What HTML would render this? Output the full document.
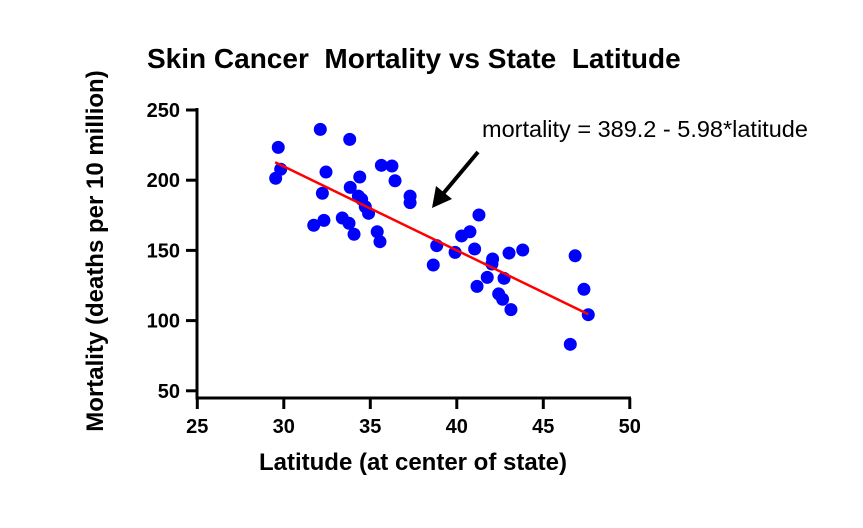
<!DOCTYPE html>
<html><head><meta charset="utf-8"><style>
html,body{margin:0;padding:0;background:#fff;}
svg{display:block;font-family:"Liberation Sans",Arial,sans-serif;}
</style></head><body>
<svg id="chart" width="863" height="528">
<text x="147" y="68" font-size="28" font-weight="bold" xml:space="preserve">Skin Cancer  Mortality vs State  Latitude</text>
<text transform="translate(103,251) rotate(-90)" text-anchor="middle" font-size="24" font-weight="bold">Mortality (deaths per 10 million)</text>
<text x="413" y="470" text-anchor="middle" font-size="24" font-weight="bold">Latitude (at center of state)</text>
<text x="482" y="137" font-size="23.5">mortality = 389.2 - 5.98*latitude</text>
<g id="axes"></g>
<g id="marks"></g>
<line x1="478" y1="152" x2="442" y2="195" stroke="#000" stroke-width="4"/>
<polygon points="432,208 436,186 452,199" fill="#000"/>
</svg>
<script>
const xTicks = [25,30,35,40,45,50];
const yTicks = [50,100,150,200,250];
const latitude = [29.68,32.11,33.81,29.82,29.53,32.44,34.39,33.84,32.23,35.64,36.25,36.43,37.3,37.3,34.31,34.5,34.71,34.9,31.73,32.32,33.38,33.77,34.06,35.4,35.56,38.64,41.28,40.76,40.28,38.84,39.9,41.03,42.07,42.03,43.02,43.81,41.76,42.73,41.17,42.42,42.65,43.13,46.84,47.35,47.6,46.56];
const mortality = [223.4,236.2,229.1,207.8,201.4,205.8,202.3,194.9,190.7,210.6,210.1,199.6,188.7,184.0,188.7,186.4,181.1,176.4,167.9,171.4,173.1,169.3,161.5,163.3,156.2,139.6,175.2,163.3,160.3,153.4,148.6,151.0,143.9,140.3,148.1,150.3,130.8,130.1,124.4,119.0,115.2,107.8,146.2,122.3,104.2,83.1];
const intercept = 389.2;
const slope = -5.98;
const fitRange = [29.5, 47.6];

const NS = "http://www.w3.org/2000/svg";
const xs = v => 197.3 + (v - 25) * 17.3;
const ys = v => 110 + (250 - v) * 1.404;
function mk(tag, attrs, parent){ const e=document.createElementNS(NS,tag); for(const k in attrs) e.setAttribute(k,attrs[k]); parent.appendChild(e); return e; }
const axes = document.getElementById('axes');
const marks = document.getElementById('marks');

let e = mk('line',{x1:197,y1:108,x2:197,y2:399,stroke:'#000','stroke-width':3},axes);


e = mk('line',{x1:195.5,y1:398,x2:631,y2:398,stroke:'#000','stroke-width':3},axes);



yTicks.forEach(t=>{
  const y = ys(t);
  let l = mk('line',{x1:186,y1:y,x2:197,y2:y,stroke:'#000','stroke-width':3},axes);
  
  
  let tx = mk('text',{x:180,y:y+7,'text-anchor':'end','font-size':20,'font-weight':'bold'},axes);
  tx.textContent = t;
  
  
});
xTicks.forEach(t=>{
  const x = xs(t);
  let l = mk('line',{x1:x,y1:398,x2:x,y2:409,stroke:'#000','stroke-width':3},axes);
  
  
  let tx = mk('text',{x:x,y:433,'text-anchor':'middle','font-size':20,'font-weight':'bold'},axes);
  tx.textContent = t;
  
  
});

latitude.forEach((lat,i)=>{
  let c = mk('circle',{cx:xs(lat),cy:ys(mortality[i]),r:6.5,fill:'#0000ff'},marks);
  
  
});
let fl = mk('line',{x1:xs(fitRange[0]),y1:ys(intercept+slope*fitRange[0]),x2:xs(fitRange[1]),y2:ys(intercept+slope*fitRange[1]),stroke:'#ff0000','stroke-width':2.5},marks);


</script>
</body></html>
